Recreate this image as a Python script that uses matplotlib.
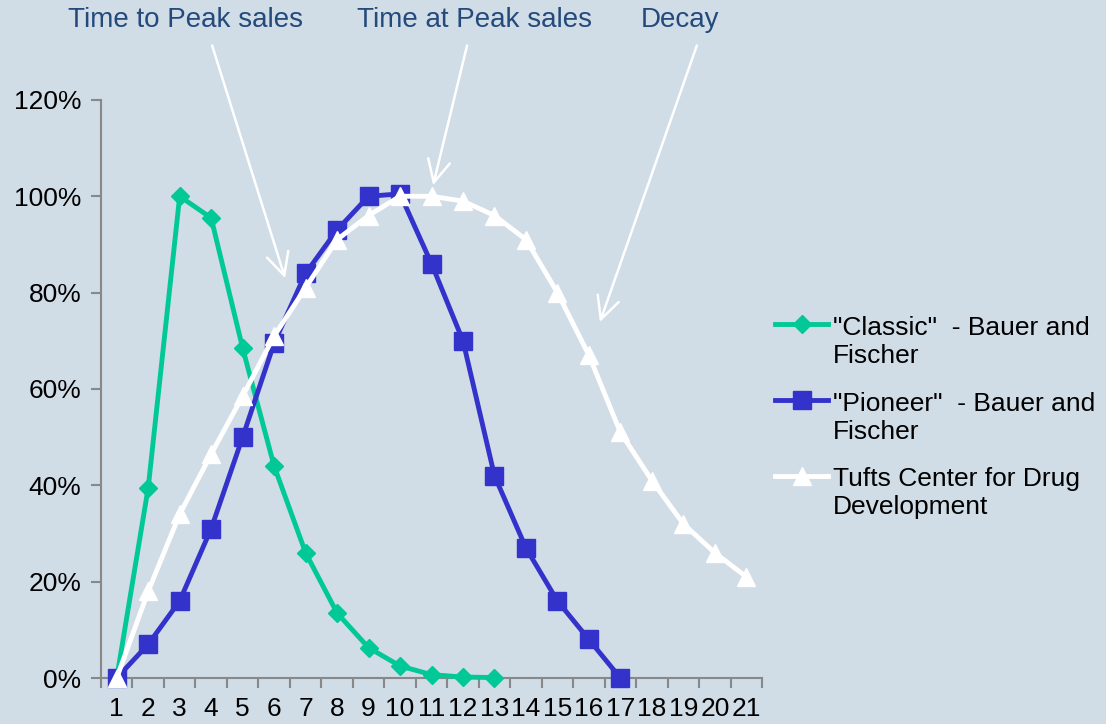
import matplotlib
matplotlib.use("Agg")
import matplotlib.pyplot as plt
from matplotlib.ticker import FixedLocator, PercentFormatter
from matplotlib.lines import Line2D
from matplotlib.legend_handler import HandlerLine2D

years = list(range(1, 22))
classic = [0, 39.5, 100, 95.5, 68.5, 44, 26, 13.5, 6.3, 2.5, 0.7, 0.2, 0.1]
pioneer = [0, 7, 16, 31, 50, 69.5, 84, 93, 100, 100.5, 86, 70, 42, 27, 16, 8, 0]
tufts = [0, 18, 34, 46.5, 58.5, 71, 81, 91, 96, 100, 100, 99, 96, 91, 80, 67, 51, 41, 32, 26, 21]
labels = ['"Classic"  - Bauer and\nFischer', '"Pioneer"  - Bauer and\nFischer',
          'Tufts Center for Drug\nDevelopment']
yticks = [0, 20, 40, 60, 80, 100, 120]
phase_labels = ["Time to Peak sales", "Time at Peak sales", "Decay"]
phase_text_x = [3.17, 12.38, 18.9]
arrow_tail = [(4.03, 131.3), (12.13, 131.3), (19.43, 131.3)]
arrow_head = [(6.35, 83), (11.05, 102.3), (16.35, 73.9)]

BG = "#D0DCE6"
GREEN = "#00C896"
BLUE = "#3333CC"
WHITE = "#FFFFFF"
FONT = ["Liberation Sans", "DejaVu Sans"]


class HandlerFirstLine(HandlerLine2D):
    """Line handle aligned with the first line of a two-line label."""
    def __init__(self, dy=0, **kw):
        super().__init__(**kw)
        self.dy = dy

    def create_artists(self, *args, **kwargs):
        arts = super().create_artists(*args, **kwargs)
        for a in arts:
            a.set_ydata([y + self.dy for y in a.get_ydata()])
        return arts


fig = plt.figure(figsize=(11.06, 7.24), dpi=100, facecolor=BG)
ax = fig.add_axes([0.0913, 0.0635, 0.5977, 0.7985])
ax.set_facecolor(BG)

ax.plot(years[:len(classic)], classic, color=GREEN, lw=3.5, marker="D", ms=9.5,
        clip_on=False, label=labels[0], zorder=3)
ax.plot(years[:len(pioneer)], pioneer, color=BLUE, lw=3.5, marker="s", ms=13,
        clip_on=False, label=labels[1], zorder=4)
ax.plot(years, tufts, color=WHITE, lw=3.5, marker="^", ms=13,
        clip_on=False, label=labels[2], zorder=5)

ax.set_xlim(0.5, 21.5)
ax.set_ylim(0, 120)
ax.set_yticks(yticks)
ax.yaxis.set_major_formatter(PercentFormatter(decimals=0))
ax.set_xticks(years)
ax.xaxis.set_minor_locator(FixedLocator([i + 0.5 for i in range(0, 22)]))
ax.tick_params(axis="x", which="major", length=0, pad=14, labelsize=19)
ax.tick_params(axis="x", which="minor", length=7, width=1.5, color="#888888", direction="out")
ax.tick_params(axis="y", length=7, width=1.5, color="#888888", direction="out", labelsize=19, pad=7)
for lab in ax.get_xticklabels() + ax.get_yticklabels():
    lab.set_family(FONT)
for side in ["top", "right"]:
    ax.spines[side].set_visible(False)
for side in ["left", "bottom"]:
    ax.spines[side].set_color("#888888")
    ax.spines[side].set_linewidth(1.5)

for txt, tx in zip(phase_labels, phase_text_x):
    ax.text(tx, 136.5, txt, ha="center", va="center", fontsize=20, color="#244A7C",
            family=FONT, clip_on=False)
for tail, head in zip(arrow_tail, arrow_head):
    ax.annotate("", xy=head, xytext=tail, xycoords="data", textcoords="data",
                arrowprops=dict(arrowstyle="->,head_length=0.8,head_width=0.4",
                                color=WHITE, lw=1.8, mutation_scale=20,
                                shrinkA=0, shrinkB=0),
                annotation_clip=False, zorder=6)

leg = fig.legend(loc="center left", bbox_to_anchor=(0.701, 0.423), frameon=False,
                 handlelength=2.0, handletextpad=0.2, labelspacing=0.9,
                 borderpad=0, borderaxespad=0, prop={"family": FONT, "size": 19},
                 handler_map={Line2D: HandlerFirstLine(dy=13)})

fig.savefig("out.png", dpi=100, facecolor=BG)
